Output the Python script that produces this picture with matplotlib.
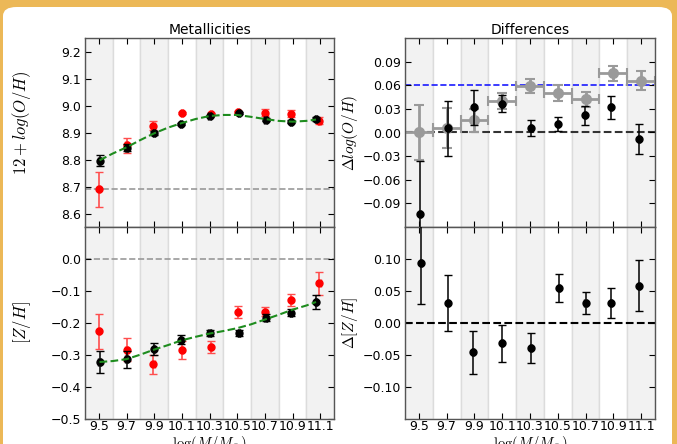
import matplotlib
matplotlib.use("Agg")
import matplotlib.pyplot as plt
from matplotlib.patches import FancyBboxPatch

# ---------------- data ----------------
mass_bins = [9.5, 9.7, 9.9, 10.1, 10.3, 10.5, 10.7, 10.9, 11.1]
tick_labels = ["9.5", "9.7", "9.9", "10.1", "10.3", "10.5", "10.7", "10.9", "11.1"]
band_edges = [9.4, 9.6, 9.8, 10.0, 10.2, 10.4, 10.6, 10.8, 11.0, 11.2]

# Metallicities: 12+log(O/H)
oh_black_x = [9.505, 9.70, 9.90, 10.095, 10.30, 10.515, 10.705, 10.89, 11.07]
oh_black = [8.796, 8.844, 8.899, 8.932, 8.961, 8.972, 8.948, 8.940, 8.950]
oh_black_err = [0.019, 0.012, 0.007, 0.005, 0.005, 0.005, 0.005, 0.005, 0.008]
oh_red_x = [9.50, 9.70, 9.895, 10.10, 10.31, 10.505, 10.70, 10.89, 11.095]
oh_red = [8.690, 8.852, 8.925, 8.972, 8.968, 8.976, 8.974, 8.970, 8.944]
oh_red_err = [0.065, 0.029, 0.017, 0.005, 0.005, 0.005, 0.012, 0.013, 0.013]
solar_oh = 8.69

fit_x = [9.505, 9.6, 9.7, 9.8, 9.9, 10.0, 10.1, 10.2, 10.3, 10.4, 10.5,
         10.6, 10.7, 10.8, 10.9, 11.0, 11.07]
oh_fit = [8.797, 8.822, 8.845, 8.872, 8.897, 8.918, 8.935, 8.950, 8.961, 8.965,
          8.965, 8.958, 8.950, 8.943, 8.940, 8.943, 8.948]
zh_fit = [-0.323, -0.320, -0.314, -0.300, -0.284, -0.270, -0.255, -0.244, -0.234,
          -0.226, -0.217, -0.205, -0.190, -0.175, -0.159, -0.146, -0.135]

# Metallicities: [Z/H]
zh_black = [-0.323, -0.315, -0.281, -0.253, -0.232, -0.232, -0.184, -0.168, -0.135]
zh_black_err = [0.036, 0.027, 0.019, 0.014, 0.010, 0.010, 0.010, 0.012, 0.021]
zh_red = [-0.227, -0.285, -0.330, -0.286, -0.276, -0.165, -0.165, -0.129, -0.077]
zh_red_err = [0.055, 0.036, 0.030, 0.028, 0.020, 0.019, 0.015, 0.020, 0.035]

# Differences: delta log(O/H)
doh_gray = [0.0, 0.0055, 0.0153, 0.040, 0.059, 0.050, 0.042, 0.075, 0.0657]
doh_gray_err = [0.035, 0.025, 0.0144, 0.010, 0.0093, 0.010, 0.010, 0.010, 0.012]
bin_halfwidth = [0.1] * 9
doh_black_x = [9.508, 9.707, 9.895, 10.098, 10.307, 10.50, 10.698, 10.883, 11.082]
doh_black = [-0.1037, 0.0055, 0.032, 0.0365, 0.006, 0.011, 0.0216, 0.0318, -0.0084]
doh_black_err = [0.068, 0.035, 0.022, 0.011, 0.010, 0.0085, 0.0117, 0.0144, 0.0195]
doh_ref = 0.06

# Differences: delta [Z/H]
dzh_x = [9.513, 9.707, 9.89, 10.098, 10.309, 10.506, 10.70, 10.883, 11.085]
dzh = [0.093, 0.0307, -0.0464, -0.0318, -0.0396, 0.054, 0.0307, 0.031, 0.058]
dzh_err = [0.064, 0.044, 0.034, 0.029, 0.0234, 0.0216, 0.017, 0.024, 0.040]

# ---------------- style ----------------
plt.rcParams["font.family"] = ["DejaVu Sans"]
plt.rcParams["mathtext.fontset"] = "cm"
plt.rcParams["font.size"] = 9

W, H = 677, 444
fig = plt.figure(figsize=(W / 100, H / 100), dpi=100)
fig.patch.set_facecolor("#ecb857")
box = FancyBboxPatch((3 / W, -20 / H), (669 / W), (H + 13) / H,
                     boxstyle="round,pad=0,rounding_size=0.02",
                     transform=fig.transFigure, facecolor="white",
                     edgecolor="none", zorder=-10)
fig.patches.append(box)


def px_axes(x0, y0, x1, y1):
    return fig.add_axes([x0 / W, 1 - y1 / H, (x1 - x0) / W, (y1 - y0) / H])


ax_oh = px_axes(85, 38, 334, 227)
ax_zh = px_axes(85, 227, 334, 418.5)
ax_doh = px_axes(405, 38, 655, 227)
ax_dzh = px_axes(405, 227, 655, 418.5)

for ax in (ax_oh, ax_zh, ax_doh, ax_dzh):
    for i in range(len(band_edges) - 1):
        fc = "#f2f2f2" if i % 2 == 0 else "white"
        ax.axvspan(band_edges[i], band_edges[i + 1], facecolor=fc,
                   edgecolor="#dcdcdc", linewidth=1.0, zorder=0)
    ax.set_xlim(band_edges[0], band_edges[-1])
    ax.set_xticks(mass_bins)
    ax.tick_params(direction="in", top=True, right=True, length=4,
                   labelsize=9, pad=3)
    ax.tick_params(axis="x", pad=1)
    for s in ax.spines.values():
        s.set_color("#555555")
        s.set_linewidth(1.0)

for ax in (ax_oh, ax_doh):
    ax.set_xticklabels([])
for ax in (ax_zh, ax_dzh):
    ax.set_xticklabels(tick_labels)
    ax.set_xlabel(r"$\log(M/M_{\odot})$", fontsize=10.5, labelpad=0.5)

red_kw = dict(fmt="o", color="red", ms=5, ecolor=(1, 0.3, 0.3), elinewidth=1.2,
              capsize=3, capthick=1, zorder=3)
blk_kw = dict(fmt="o", color="black", ms=5, ecolor="black", elinewidth=1.1,
              capsize=3, capthick=1, zorder=4)
small_x = [0.008] * 9

# --- top left
ax_oh.axhline(solar_oh, color="#999999", ls="--", lw=1.2, zorder=1)
ax_oh.errorbar(oh_red_x, oh_red, yerr=oh_red_err, xerr=small_x, **red_kw)
ax_oh.errorbar(oh_black_x, oh_black, yerr=oh_black_err, xerr=small_x, **blk_kw)
ax_oh.plot(fit_x, oh_fit, color="#1e8c1e", ls="--", lw=1.5, zorder=5)
ax_oh.set_ylim(8.55, 9.25)
ax_oh.set_yticks([8.6, 8.7, 8.8, 8.9, 9.0, 9.1, 9.2])
ax_oh.set_ylabel(r"$12+log(O/H)$", fontsize=12)
ax_oh.yaxis.set_label_coords(-0.21, 0.55)
ax_oh.set_title("Metallicities", fontsize=10, pad=3)

# --- bottom left
ax_zh.axhline(0.0, color="#999999", ls="--", lw=1.2, zorder=1)
ax_zh.errorbar(oh_red_x, zh_red, yerr=zh_red_err, xerr=small_x, **red_kw)
ax_zh.errorbar(oh_black_x, zh_black, yerr=zh_black_err, xerr=small_x, **blk_kw)
ax_zh.plot(fit_x, zh_fit, color="#1e8c1e", ls="--", lw=1.5, zorder=5)
ax_zh.set_ylim(-0.5, 0.1)
ax_zh.set_yticks([-0.5, -0.4, -0.3, -0.2, -0.1, 0.0])
ax_zh.set_yticklabels(["\u22120.5", "\u22120.4", "\u22120.3", "\u22120.2", "\u22120.1", "0.0"])
ax_zh.set_ylabel(r"$[Z/H]$", fontsize=12)
ax_zh.yaxis.set_label_coords(-0.21, 0.5)

# --- top right
ax_doh.axhline(0.0, color="#333333", ls="--", lw=1.5, zorder=1)
ax_doh.axhline(doh_ref, color="#1a1aff", ls="--", lw=1.2, zorder=1)
ax_doh.errorbar(mass_bins, doh_gray, yerr=doh_gray_err, xerr=bin_halfwidth,
                fmt="o", color="#9a9a9a", ms=7, ecolor="#9a9a9a", elinewidth=2,
                capsize=3.5, capthick=1.5, zorder=2)
ax_doh.errorbar(doh_black_x, doh_black, yerr=doh_black_err, xerr=small_x, **blk_kw)
ax_doh.set_ylim(-0.12, 0.12)
ax_doh.set_yticks([-0.09, -0.06, -0.03, 0.0, 0.03, 0.06, 0.09])
ax_doh.set_yticklabels(["\u22120.09", "\u22120.06", "\u22120.03", "0.00", "0.03", "0.06", "0.09"])
ax_doh.set_ylabel(r"$\Delta log(O/H)$", fontsize=11, labelpad=2)
ax_doh.set_title("Differences", fontsize=10, pad=3)

# --- bottom right
ax_dzh.axhline(0.0, color="black", ls="--", lw=1.5, zorder=1)
ax_dzh.errorbar(dzh_x, dzh, yerr=dzh_err, xerr=small_x, **blk_kw)
ax_dzh.set_ylim(-0.15, 0.15)
ax_dzh.set_yticks([-0.10, -0.05, 0.0, 0.05, 0.10])
ax_dzh.set_yticklabels(["\u22120.10", "\u22120.05", "0.00", "0.05", "0.10"])
ax_dzh.set_ylabel(r"$\Delta[Z/H]$", fontsize=11, labelpad=2)

fig.savefig("out.png", dpi=100, facecolor=fig.get_facecolor())
